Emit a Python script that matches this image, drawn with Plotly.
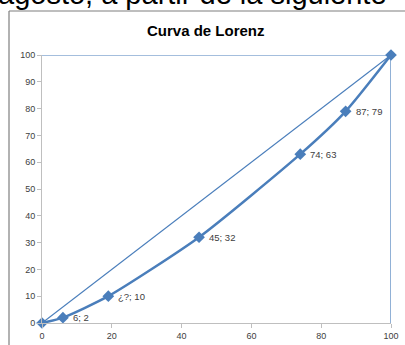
import plotly.graph_objects as go

# Data
lorenz_x = [0, 6, 19, 45, 74, 87, 100]
lorenz_y = [0, 2, 10, 32, 63, 79, 100]
point_labels = ["", "6; 2", "¿?; 10", "45; 32", "74; 63", "87; 79", ""]
equality_x = [0, 100]
equality_y = [0, 100]
box_x = [0, 100, 100]
box_y = [100, 100, 0]
y_ticks = [0, 10, 20, 30, 40, 50, 60, 70, 80, 90, 100]
x_ticks = [0, 20, 40, 60, 80, 100]

BLUE = "#4a7ebb"
W, H = 405, 345
ML, MR, MT, MB = 42, 14, 55, 22
PW, PH = W - ML - MR, H - MT - MB

def px_to_paper_x(px):
    return (px - ML) / PW

def px_to_paper_y(py):
    return 1 - (py - MT) / PH

fig = go.Figure()
fig.add_trace(go.Scatter(x=box_x, y=box_y, mode="lines",
                         line=dict(color=BLUE, width=1.2), cliponaxis=False,
                         hoverinfo="skip", showlegend=False))
fig.add_trace(go.Scatter(x=equality_x, y=equality_y, mode="lines",
                         line=dict(color=BLUE, width=1.2), cliponaxis=False,
                         hoverinfo="skip", showlegend=False))
fig.add_trace(go.Scatter(x=lorenz_x, y=lorenz_y, mode="lines+markers",
                         line=dict(color=BLUE, width=2.5, shape="spline", smoothing=0.6),
                         marker=dict(symbol="diamond", size=9, color=BLUE),
                         cliponaxis=False, showlegend=False))

for xv, yv, lab in zip(lorenz_x, lorenz_y, point_labels):
    if lab:
        fig.add_annotation(x=xv, y=yv, text=lab, showarrow=False, xanchor="left",
                           yanchor="middle", xshift=8,
                           font=dict(family="Liberation Sans, Arial", size=9.5, color="#404040"))

axis_common = dict(showgrid=False, zeroline=False, showline=True, linecolor="#bfbfbf",
                   linewidth=1, ticks="outside", ticklen=4, tickcolor="#bfbfbf",
                   automargin=False,
                   tickfont=dict(family="Liberation Sans, Arial", size=9, color="#404040"))
fig.update_xaxes(range=[0, 100], tickvals=x_ticks, **axis_common)
fig.update_yaxes(range=[0, 100], tickvals=y_ticks, **axis_common)

# chart frame (left and top borders)
fx = px_to_paper_x(9)
fy = px_to_paper_y(11)
fig.add_shape(type="line", xref="paper", yref="paper", x0=fx, x1=fx, y0=px_to_paper_y(H + 5), y1=fy,
              line=dict(color="#7f7f7f", width=1.2))
fig.add_shape(type="line", xref="paper", yref="paper", x0=fx, x1=px_to_paper_x(W + 5), y0=fy, y1=fy,
              line=dict(color="#7f7f7f", width=1.2))

fig.add_annotation(text="<b>Curva de Lorenz</b>", xref="paper", yref="paper",
                   x=px_to_paper_x(206), y=px_to_paper_y(31), xanchor="center", yanchor="middle",
                   showarrow=False, font=dict(family="Liberation Sans, Arial", size=15, color="#000000"))
# document text above the chart (cut at top)
fig.add_annotation(text="agosto, a partir de la siguiente", xref="paper", yref="paper",
                   x=px_to_paper_x(-4), y=px_to_paper_y(12), xanchor="left", yanchor="bottom",
                   showarrow=False, font=dict(family="Liberation Sans, Arial", size=29, color="#000000"))

fig.update_layout(width=W, height=H, margin=dict(l=ML, r=MR, t=MT, b=MB, autoexpand=False),
                  paper_bgcolor="white", plot_bgcolor="white", showlegend=False)
fig.write_html("out.html", config={"displayModeBar": False},
               post_script="document.body.style.margin='0px';document.body.style.overflow='hidden';")
